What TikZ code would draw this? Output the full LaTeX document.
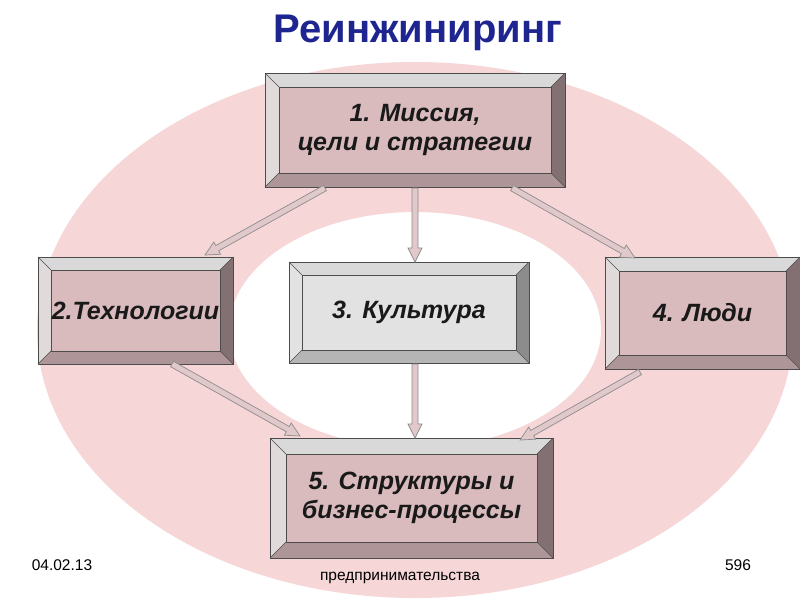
\documentclass[tikz,border=0pt]{standalone}
\usepackage{fontspec}
\setmainfont{Liberation Sans}
\usetikzlibrary{calc}
\definecolor{ring}{HTML}{F6D6D7}
\definecolor{pinkface}{HTML}{D9BBBE}
\definecolor{greyface}{HTML}{E2E2E2}
\definecolor{titleblue}{HTML}{1F2590}
\tikzset{
  edge/.style={draw=black!70, line width=0.6pt},
  boxtext/.style={font=\fontsize{25}{29}\selectfont\bfseries\itshape, align=center, text=black!90},
  arrowshape/.style={draw=black!45, fill=pinkface!80!white, line width=0.7pt},
  foot/.style={font=\fontsize{15.5}{17}\selectfont}
}
\newcommand{\bevelbox}[9]{%
  \coordinate (#1-o1) at (#2,#3); \coordinate (#1-o2) at (#4,#3);
  \coordinate (#1-o3) at (#4,#5); \coordinate (#1-o4) at (#2,#5);
  \coordinate (#1-i1) at ($(#2,#3)+(#6,#6)$); \coordinate (#1-i2) at ($(#4,#3)+(-#6,#6)$);
  \coordinate (#1-i3) at ($(#4,#5)+(-#6,-#6)$); \coordinate (#1-i4) at ($(#2,#5)+(#6,-#6)$);
  \fill[black!15] (#1-o1)--(#1-o2)--(#1-i2)--(#1-i1)--cycle;
  \fill[#7!70!black!30!white] (#1-o1)--(#1-i1)--(#1-i4)--(#1-o4)--cycle;
  \fill[#8] (#1-o2)--(#1-o3)--(#1-i3)--(#1-i2)--cycle;
  \fill[#7!80!black] (#1-o4)--(#1-i4)--(#1-i3)--(#1-o3)--cycle;
  \fill[#7] (#1-i1) rectangle (#1-i3);
  \draw[edge] (#1-o1) rectangle (#1-o3);
  \draw[edge] (#1-i1) rectangle (#1-i3);
  \draw[edge] (#1-o1)--(#1-i1) (#1-o2)--(#1-i2) (#1-o3)--(#1-i3) (#1-o4)--(#1-i4);
  \node[boxtext] (#1) at ($(#1-i1)!0.5!(#1-i3)$) {#9};
}
\newcommand{\blockarrow}[2]{%
  \coordinate (neck) at ($(#2)!14pt!(#1)$);
  \path[arrowshape] ($(#1)!3pt!90:(#2)$) -- ($(neck)!3pt!-90:(#1)$) -- ($(neck)!7pt!-90:(#1)$) -- (#2)
    -- ($(neck)!7pt!90:(#1)$) -- ($(neck)!3pt!90:(#1)$) -- ($(#1)!3pt!-90:(#2)$) -- cycle;
}
\begin{document}
\begin{tikzpicture}[x=1pt,y=-1pt]
\useasboundingbox (0,0) rectangle (800,600);
\fill[white] (0,0) rectangle (800,600);
\fill[ring, even odd rule] (415,330) ellipse [x radius=378, y radius=268] (415,330) ellipse [x radius=186, y radius=118];
\node[font=\fontsize{40}{44}\selectfont\bfseries, text=titleblue] (title) at (418,33) {Реинжиниринг};
\node[foot] (date) at (62,565) {04.02.13};
\node[foot] (page) at (738,565) {596};
\node[foot] (footer) at (400,578) {предпринимательства};
\bevelbox{b1}{265}{73}{565}{187}{14}{pinkface}{pinkface!60!black}{1. Миссия,\\цели и стратегии}
\bevelbox{b2}{38}{257}{233}{364}{13}{pinkface}{pinkface!60!black}{2.Технологии}
\bevelbox{b3}{289}{262}{529}{363}{13}{greyface}{black!45}{3. Культура}
\bevelbox{b4}{605}{257}{800}{369}{14}{pinkface}{pinkface!60!black}{4. Люди}
\bevelbox{b5}{270}{438}{553}{558}{16}{pinkface}{pinkface!60!black}{5. Структуры и\\бизнес-процессы}
\coordinate (s12) at (325,188); \coordinate (e12) at (205,255);
\coordinate (s13) at (415,188); \coordinate (e13) at (415,262);
\coordinate (s14) at (512,188); \coordinate (e14) at (635,258);
\coordinate (s25) at (172,364); \coordinate (e25) at (300,436);
\coordinate (s35) at (415,364); \coordinate (e35) at (415,438);
\coordinate (s45) at (640,372); \coordinate (e45) at (520,440);
\blockarrow{s12}{e12}
\blockarrow{s13}{e13}
\blockarrow{s14}{e14}
\blockarrow{s25}{e25}
\blockarrow{s35}{e35}
\blockarrow{s45}{e45}
\end{tikzpicture}
\end{document}
